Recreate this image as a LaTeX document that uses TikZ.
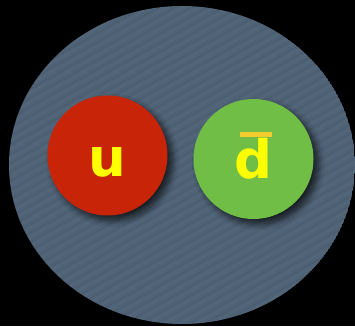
\documentclass[tikz,border=0pt]{standalone}
\usepackage{fontspec}
\newfontfamily\quarkfont{DejaVu Sans}[BoldFont={DejaVu Sans Bold}]
\usetikzlibrary{shadows.blur}
\definecolor{bgblue}{HTML}{4F6276}
\definecolor{streak}{HTML}{6A7E92}
\definecolor{quarkred}{HTML}{C82508}
\definecolor{quarkgreen}{HTML}{70BE45}
\definecolor{letteryellow}{HTML}{FFFF00}
\definecolor{baryellow}{HTML}{F2CC2E}
\tikzset{
  quark/.style={circle, minimum size=120pt, inner sep=0pt,
    blur shadow={shadow xshift=5pt, shadow yshift=-5pt, shadow blur steps=12, shadow opacity=70, shadow blur radius=6pt}},
  letter/.style={text=letteryellow, font=\quarkfont\bfseries\fontsize{53}{53}\selectfont, inner sep=0pt}
}
\begin{document}
\begin{tikzpicture}[x=1pt,y=1pt]
  \fill[black] (0,0) rectangle (355,326);
  \useasboundingbox (0,0) rectangle (355,326);
  % meson body
  \begin{scope}
    \clip (182,161) ellipse [x radius=173, y radius=159];
    \fill[bgblue] (182,161) ellipse [x radius=173, y radius=159];
    \foreach \k in {-40,...,40} {
      \draw[streak, opacity=0.18, line width=1.5pt] (0,{\k*9}) -- (355,{\k*9+200});
    }
    \foreach \k in {-40,...,40} {
      \draw[black, opacity=0.06, line width=1pt] (0,{\k*9+4}) -- (355,{\k*9+204});
    }
  \end{scope}
  % quarks
  \node[quark, fill=quarkred] (u) at (107.5,170.5) {};
  \node[quark, fill=quarkgreen] (dbar) at (253.5,167) {};
  \node[letter, anchor=base] (ul) at ([yshift=-21.5pt]u) {u};
  \node[letter, anchor=base] (dl) at ([yshift=-20pt]dbar) {d};
  \fill[baryellow] (240,189) rectangle (272,194);
\end{tikzpicture}
\end{document}
